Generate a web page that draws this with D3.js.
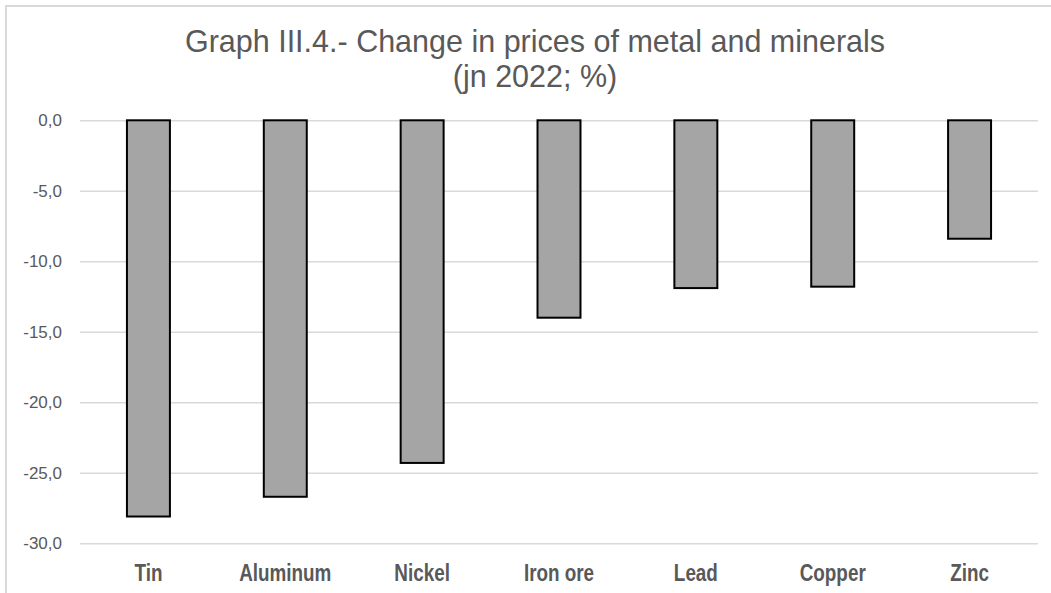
<!DOCTYPE html>
<html>
<head>
<meta charset="utf-8">
<script src="https://cdn.jsdelivr.net/npm/d3@7"></script>
<style>
  html, body { margin: 0; padding: 0; background: #fff; }
  svg { display: block; }
</style>
</head>
<body>
<svg id="chart" width="1051" height="593"></svg>
<script>
// Price change by metal, June 2022 (%)
const categories = ["Tin", "Aluminum", "Nickel", "Iron ore", "Lead", "Copper", "Zinc"];
const values = [-28.1, -26.7, -24.3, -14.0, -11.9, -11.8, -8.4];
const yTicks = [0, -5, -10, -15, -20, -25, -30];
const titleLines = ["Graph III.4.- Change in prices of metal and minerals", "(jn 2022; %)"];

const svg = d3.select("#chart");
const W = 1051, H = 593;
const margin = { top: 120, right: 13, bottom: 50, left: 80 };
const sans = "'Liberation Sans', Arial, sans-serif";

// chart frame
svg.append("path")
  .attr("d", `M6,${H} V6 H${W}`)
  .attr("fill", "none")
  .attr("stroke", "#d9d9d9")
  .attr("stroke-width", 2);

// title
const title = svg.append("text")
  .attr("text-anchor", "middle")
  .attr("font-family", sans)
  .attr("font-size", 30.5)
  .attr("fill", "#595959");
titleLines.forEach((t, i) => {
  title.append("tspan").attr("x", 535).attr("y", 52 + i * 35).text(t);
});

const x = d3.scaleBand()
  .domain(categories)
  .range([margin.left, W - margin.right])
  .paddingInner(0.686)
  .paddingOuter(0.343);

const y = d3.scaleLinear()
  .domain([0, -30])
  .range([120.3, 543.3]);

// gridlines + y labels
const yAxis = d3.axisLeft(y)
  .tickValues(yTicks)
  .tickSize(-(W - margin.right - margin.left))
  .tickPadding(18)
  .tickFormat(d => d3.format(".1f")(d).replace(".", ",").replace("−", "-"));

const gy = svg.append("g")
  .attr("transform", `translate(${margin.left},0)`)
  .call(yAxis);
gy.select(".domain").remove();
gy.selectAll(".tick line").attr("stroke", "#d9d9d9").attr("stroke-width", 1.5);
gy.selectAll(".tick text")
  .attr("fill", "#595959")
  .attr("font-family", sans)
  .attr("font-size", 17);

// bars
svg.append("g")
  .selectAll("rect")
  .data(categories.map((c, i) => ({ c, v: values[i] })))
  .join("rect")
  .attr("x", d => x(d.c))
  .attr("width", x.bandwidth())
  .attr("y", d => y(Math.max(0, d.v)))
  .attr("height", d => Math.abs(y(d.v) - y(0)))
  .attr("fill", "#a5a5a5")
  .attr("stroke", "#000")
  .attr("stroke-width", 2);

// category labels: bold, horizontally condensed
const xAxis = d3.axisBottom(x).tickSize(0).tickPadding(0);
const gx = svg.append("g")
  .attr("transform", `translate(0,${y(-30)})`)
  .call(xAxis);
gx.select(".domain").remove();
const condense = 0.82;
gx.selectAll(".tick text")
  .attr("dy", 0)
  .attr("y", 38)
  .attr("fill", "#595959")
  .attr("font-family", sans)
  .attr("font-weight", "bold")
  .attr("font-size", 23)
  .each(function () {
    const w = this.getComputedTextLength();
    d3.select(this)
      .attr("textLength", w * condense)
      .attr("lengthAdjust", "spacingAndGlyphs");
  });
</script>
</body>
</html>
